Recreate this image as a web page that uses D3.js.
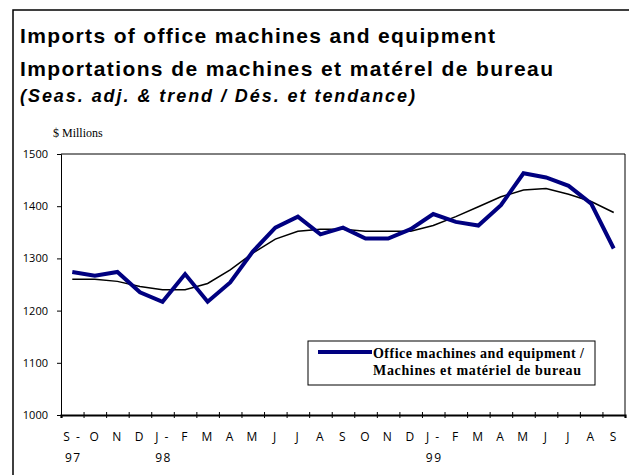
<!DOCTYPE html>
<html>
<head>
<meta charset="utf-8">
<script src="https://cdn.jsdelivr.net/npm/d3@7"></script>
<style>
  body { margin: 0; background: #fff; }
  svg { display: block; }
  .title { font-family: "Liberation Sans", Arial, sans-serif; font-weight: bold; font-size: 21px; fill: #000; }
  .sub { font-family: "Liberation Sans", Arial, sans-serif; font-weight: bold; font-style: italic; font-size: 18px; fill: #000; }
  .unit { font-family: "Liberation Serif", "Times New Roman", serif; font-size: 12px; fill: #000; }
  .tick text { font-family: "Open Sans", sans-serif; font-size: 11px; fill: #000; }
  .xlab { font-family: "Open Sans", sans-serif; font-size: 12px; fill: #000; letter-spacing: 1.5px; }
  .leg { font-family: "Liberation Serif", "Times New Roman", serif; font-size: 14px; font-weight: bold; fill: #000; }
</style>
</head>
<body>
<svg id="chart" width="629" height="475"></svg>
<script>
// monthly labels, Sept 1997 to Sept 1999
const months = ["S -", "O", "N", "D", "J -", "F", "M", "A", "M", "J", "J", "A", "S",
                "O", "N", "D", "J -", "F", "M", "A", "M", "J", "J", "A", "S"];
const years = ["97", "", "", "", "98", "", "", "", "", "", "", "", "",
               "", "", "", "99", "", "", "", "", "", "", "", ""];
// seasonally adjusted series ($ millions)
const office = [1274, 1267, 1274, 1235, 1217, 1270, 1217, 1254, 1313, 1359, 1380, 1346, 1359,
                1338, 1338, 1356, 1385, 1370, 1363, 1402, 1463, 1455, 1439, 1405, 1319];
// trend
const trend = [1260, 1260, 1256, 1246, 1240, 1240, 1252, 1278, 1310, 1337, 1352, 1356, 1356,
               1352, 1352, 1352, 1363, 1380, 1399, 1418, 1431, 1434, 1423, 1409, 1388];
const yTicks = [1000, 1100, 1200, 1300, 1400, 1500];

const svg = d3.select("#chart");
const plotL = 61, plotR = 625, plotT = 154, plotB = 415;

// outer frame
svg.append("rect")
    .attr("x", 13).attr("y", 10)
    .attr("width", 640).attr("height", 500)
    .attr("fill", "none").attr("stroke", "#000").attr("stroke-width", 1.5);

svg.append("text").attr("class", "title").attr("x", 20).attr("y", 43)
    .attr("textLength", 475).attr("lengthAdjust", "spacing")
    .text("Imports of office machines and equipment");
svg.append("text").attr("class", "title").attr("x", 20).attr("y", 76)
    .attr("textLength", 533).attr("lengthAdjust", "spacing")
    .text("Importations de machines et matérel de bureau");
svg.append("text").attr("class", "sub").attr("x", 20).attr("y", 102)
    .attr("textLength", 395).attr("lengthAdjust", "spacing")
    .text("(Seas. adj. & trend / Dés. et tendance)");
svg.append("text").attr("class", "unit").attr("x", 53).attr("y", 137)
    .text("$ Millions");

const x = d3.scaleLinear().domain([0, months.length]).range([plotL, plotR]);
const y = d3.scaleLinear().domain([1000, 1500]).range([plotB, plotT]);

// plot box (top and right edges)
svg.append("path")
    .attr("d", `M${plotL},${plotT}H${plotR}V${plotB}`)
    .attr("fill", "none").attr("stroke", "#000").attr("stroke-width", 1);

const yAxis = svg.append("g")
    .attr("transform", `translate(${plotL},0)`)
    .call(d3.axisLeft(y).tickValues(yTicks).tickSize(4).tickPadding(9).tickFormat(d3.format("d")));
yAxis.select(".domain").attr("stroke", "#000");

const xAxis = svg.append("g")
    .attr("transform", `translate(0,${plotB})`)
    .call(d3.axisBottom(x).tickValues(d3.range(1, months.length)).tickSize(3).tickFormat(""));
xAxis.select(".domain").attr("stroke-width", 2.2);
xAxis.selectAll(".tick line").attr("y1", -3).attr("y2", 3);

svg.selectAll(".xlab.m")
    .data(months)
    .enter().append("text")
    .attr("class", "xlab m")
    .attr("x", (d, i) => x(i + 0.5))
    .attr("y", 441)
    .attr("text-anchor", "middle")
    .text(d => d);

svg.selectAll(".xlab.yr")
    .data(years)
    .enter().append("text")
    .attr("class", "xlab yr")
    .attr("x", (d, i) => x(i + 0.5) + 1)
    .attr("y", 462)
    .attr("text-anchor", "middle")
    .text(d => d);

const line = d3.line()
    .x((d, i) => x(i + 0.5))
    .y(d => y(d));

svg.append("path")
    .datum(trend)
    .attr("d", line)
    .attr("fill", "none")
    .attr("stroke", "#000")
    .attr("stroke-width", 1.5);

svg.append("path")
    .datum(office)
    .attr("d", line)
    .attr("fill", "none")
    .attr("stroke", "#000080")
    .attr("stroke-width", 4)
    .attr("stroke-linejoin", "miter");

// legend
const lg = svg.append("g");
lg.append("rect")
    .attr("x", 308).attr("y", 341).attr("width", 287).attr("height", 44)
    .attr("fill", "#fff").attr("stroke", "#000").attr("stroke-width", 1);
lg.append("line")
    .attr("x1", 318).attr("x2", 372).attr("y1", 352).attr("y2", 352)
    .attr("stroke", "#000080").attr("stroke-width", 4);
lg.append("text").attr("class", "leg").attr("x", 373).attr("y", 358)
    .attr("textLength", 211).attr("lengthAdjust", "spacing")
    .text("Office machines and equipment /");
lg.append("text").attr("class", "leg").attr("x", 373).attr("y", 375)
    .attr("textLength", 208).attr("lengthAdjust", "spacing")
    .text("Machines et matériel de bureau");
</script>
</body>
</html>
